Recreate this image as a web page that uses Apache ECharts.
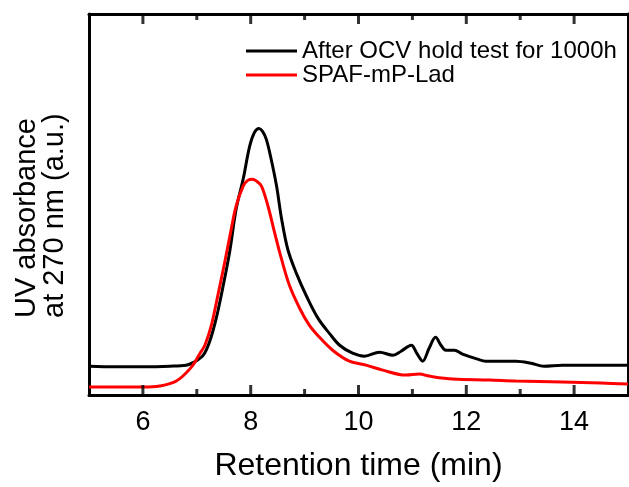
<!DOCTYPE html>
<html>
<head>
<meta charset="utf-8">
<script src="https://cdn.jsdelivr.net/npm/echarts@6/dist/echarts.min.js"></script>
<style>html,body{margin:0;padding:0;background:#fff}#c{width:629px;height:487px}</style>
</head>
<body>
<div id="c"></div>
<script>
// Data (retention time in min, UV absorbance in arbitrary units)
const blackName = 'After OCV hold test for 1000h';
const redName = 'SPAF-mP-Lad';
const blackTime = [5, 5.5, 6, 6.5, 6.8, 6.95, 7.12, 7.24, 7.36, 7.49, 7.61, 7.73, 7.86, 7.98, 8.07, 8.154, 8.22, 8.29, 8.38, 8.48, 8.57, 8.69, 8.85, 9.03, 9.25, 9.46, 9.65, 9.89, 10.11, 10.39, 10.64, 10.79, 10.98, 11.08, 11.19, 11.31, 11.43, 11.53, 11.62, 11.78, 11.93, 12.21, 12.36, 12.92, 13.2, 13.44, 13.78, 14.5, 15];
const blackValue = [29, 28.5, 28.5, 29, 30, 33, 40, 54, 77, 110, 144, 187, 217, 250, 264, 268, 265, 257, 237, 210, 178, 146, 122, 100, 77, 62, 50, 42, 39, 43, 40, 44, 50, 42, 34, 47, 58, 50, 45, 45, 41, 36, 34, 34, 32, 29, 30, 30, 30];
const redTime = [5, 5.5, 6, 6.31, 6.62, 6.9, 7.06, 7.15, 7.27, 7.39, 7.52, 7.64, 7.73, 7.86, 7.95, 8.03, 8.11, 8.20, 8.32, 8.44, 8.57, 8.72, 8.91, 9.09, 9.26, 9.52, 9.83, 10.14, 10.45, 10.88, 11.13, 11.31, 11.75, 12.43, 12.92, 13.78, 14.5, 15];
const redValue = [8, 8, 8, 9, 14, 28, 42, 50, 70, 100, 134, 167, 190, 210, 216, 217, 215, 210, 190, 164, 137, 110, 87, 70, 59, 45, 34, 30, 25, 20, 21, 19, 16, 15, 14, 13, 12, 11];
const majorTicks = [6, 8, 10, 12, 14];
const minorTicks = [7, 9, 11, 13];
const xMin = 5, xMax = 15;
const yMin = 0, yMax = 383;
const yTitle = 'UV absorbance\nat 270 nm (a.u.)';
const xTitle = 'Retention time (min)';

const FONT = '"Liberation Sans", Arial, sans-serif';
const W = 629;
const plotL = 89, plotR = 628, plotTop = 14, plotBottom = 90;
const majorLen = 10, minorLen = 6;

const chart = echarts.init(document.getElementById('c'), null, {renderer: 'canvas'});
const axLine = () => ({show: true, onZero: false, lineStyle: {color: '#000', width: 3}});
const hidden = {axisTick: {show: false}, axisLabel: {show: false}, splitLine: {show: false}};

// inward tick marks on bottom and top frame edges, placed by the axes' own scales
const tickSeries = (vals, len) => [
  {type: 'scatter', name: 'ticks', silent: true, clip: false, z: 5,
   symbol: 'rect', symbolSize: [3, len], symbolOffset: [0, -len / 2],
   itemStyle: {color: '#000'}, data: vals.map(v => [v, yMin])},
  {type: 'scatter', name: 'ticks', silent: true, clip: false, z: 5,
   symbol: 'rect', symbolSize: [3, len], symbolOffset: [0, len / 2],
   itemStyle: {color: '#000'}, data: vals.map(v => [v, yMax])}
];

const option = {
  animation: false,
  backgroundColor: '#fff',
  grid: {left: plotL, right: W - plotR, top: plotTop, bottom: plotBottom, containLabel: false},
  legend: {
    orient: 'vertical', left: 241, top: 34,
    icon: 'rect', itemWidth: 51, itemHeight: 3, itemGap: 0,
    textStyle: {fontFamily: FONT, fontSize: 24, color: '#000', lineHeight: 23},
    data: [blackName, redName]
  },
  graphic: [{
    type: 'text', x: 41, y: 318, rotation: Math.PI / 2,
    style: {text: yTitle, font: '29px ' + FONT, fill: '#000', align: 'left', verticalAlign: 'middle', lineHeight: 28}
  }],
  xAxis: [
    {type: 'value', position: 'bottom', min: xMin, max: xMax,
     axisLine: axLine(), axisTick: {show: false},
     axisLabel: {show: true, fontFamily: FONT, fontSize: 27, color: '#000', margin: 14, showMinLabel: false, showMaxLabel: false},
     splitLine: {show: false},
     name: xTitle, nameLocation: 'middle', nameGap: 55,
     nameTextStyle: {fontFamily: FONT, fontSize: 32, color: '#000'}},
    Object.assign({type: 'value', position: 'top', min: xMin, max: xMax, axisLine: axLine()}, hidden)
  ],
  yAxis: [
    Object.assign({type: 'value', position: 'left', min: yMin, max: yMax, axisLine: axLine()}, hidden),
    Object.assign({type: 'value', position: 'right', min: yMin, max: yMax, axisLine: axLine()}, hidden)
  ],
  series: [
    {name: blackName, type: 'line', symbol: 'none', smooth: 0.35,
     lineStyle: {color: '#000', width: 3}, itemStyle: {color: '#000'},
     data: blackTime.map((t, i) => [t, blackValue[i]])},
    {name: redName, type: 'line', symbol: 'none', smooth: 0.35,
     lineStyle: {color: '#ff0000', width: 3}, itemStyle: {color: '#ff0000'},
     data: redTime.map((t, i) => [t, redValue[i]])}
  ].concat(tickSeries(majorTicks, majorLen), tickSeries(minorTicks, minorLen))
};
chart.setOption(option);
</script>
</body>
</html>
